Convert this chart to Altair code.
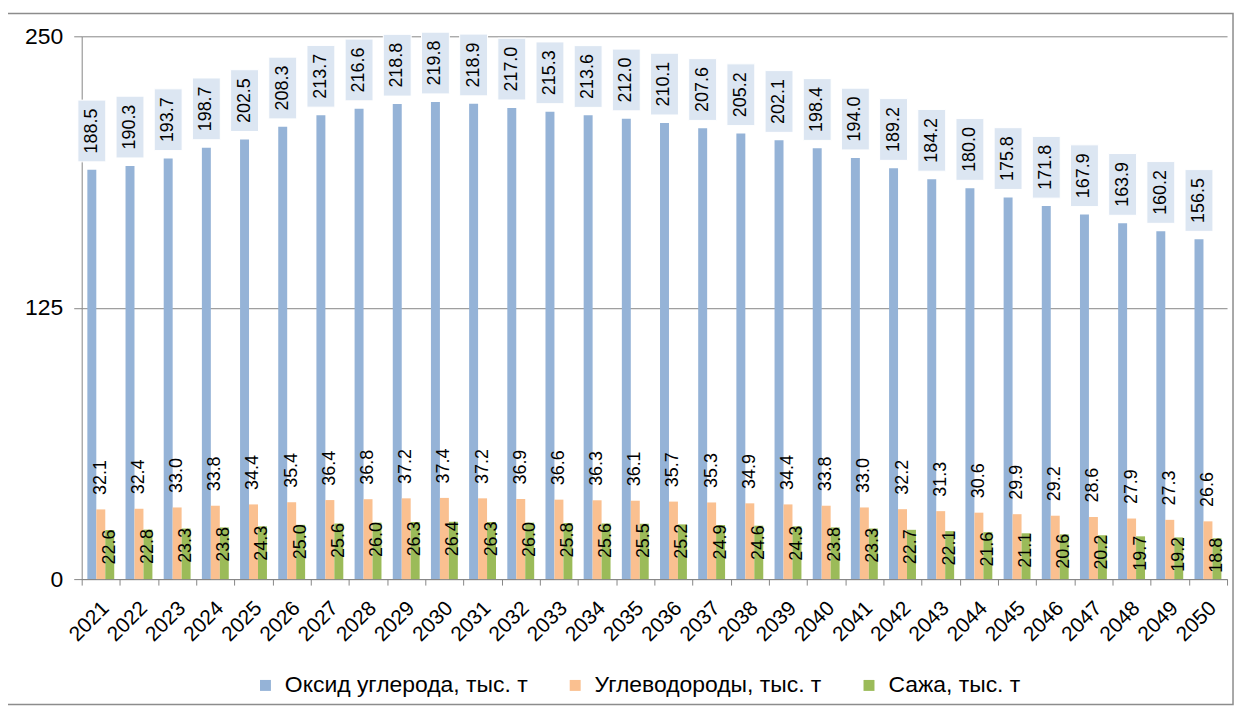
import altair as alt
import pandas as pd

years = [str(y) for y in range(2021, 2051)]
series_names = ["Оксид углерода, тыс. т", "Углеводороды, тыс. т", "Сажа, тыс. т"]
co = [188.5, 190.3, 193.7, 198.7, 202.5, 208.3, 213.7, 216.6, 218.8, 219.8,
      218.9, 217.0, 215.3, 213.6, 212.0, 210.1, 207.6, 205.2, 202.1, 198.4,
      194.0, 189.2, 184.2, 180.0, 175.8, 171.8, 167.9, 163.9, 160.2, 156.5]
hc = [32.1, 32.4, 33.0, 33.8, 34.4, 35.4, 36.4, 36.8, 37.2, 37.4,
      37.2, 36.9, 36.6, 36.3, 36.1, 35.7, 35.3, 34.9, 34.4, 33.8,
      33.0, 32.2, 31.3, 30.6, 29.9, 29.2, 28.6, 27.9, 27.3, 26.6]
soot = [22.6, 22.8, 23.3, 23.8, 24.3, 25.0, 25.6, 26.0, 26.3, 26.4,
        26.3, 26.0, 25.8, 25.6, 25.5, 25.2, 24.9, 24.6, 24.3, 23.8,
        23.3, 22.7, 22.1, 21.6, 21.1, 20.6, 20.2, 19.7, 19.2, 18.8]
colors = ["#95b3d7", "#fac090", "#9bbb59"]
y_ticks = [0, 125, 250]

rows = []
for name, vals in zip(series_names, [co, hc, soot]):
    for yr, v in zip(years, vals):
        rows.append({"year": yr, "series": name, "value": v})
df = pd.DataFrame(rows)

FONT = "Liberation Sans"
W, H = 1150, 545

x_enc = alt.X("year:N", sort=years, title=None,
              scale=alt.Scale(paddingInner=0, paddingOuter=0),
              axis=alt.Axis(labelAngle=-45, labelFontSize=21, labelColor="#000000",
                            labelFont=FONT, tickBand="extent", tickSize=6,
                            tickColor="#868686", domainColor="#868686",
                            labelPadding=12, labelOffset=-3, grid=False))
xo_enc = alt.XOffset("series:N", sort=series_names,
                     scale=alt.Scale(domain=series_names, paddingInner=0, paddingOuter=0.63))
y_scale = alt.Scale(domain=[0, 250], nice=False)

base = alt.Chart(df).encode(x=x_enc, xOffset=xo_enc)

bars = base.mark_bar().encode(
    y=alt.Y("value:Q", scale=y_scale, title=None,
            axis=alt.Axis(values=y_ticks, labelFontSize=23, labelColor="#000000",
                          labelFont=FONT, grid=True, gridColor="#868686",
                          domainColor="#868686", tickColor="#868686", tickSize=8,
                          labelPadding=11)),
    color=alt.Color("series:N", sort=series_names,
                    scale=alt.Scale(domain=series_names, range=colors),
                    legend=alt.Legend(title=None, orient="none", legendX=173, legendY=640,
                                      direction="horizontal", symbolType="square",
                                      symbolSize=121, symbolStrokeWidth=0,
                                      labelFontSize=23, labelFont=FONT, labelLimit=500,
                                      labelColor="#000000", columnPadding=36,
                                      labelOffset=8)),
)

co_data = base.transform_filter(alt.datum.series == series_names[0])
hc_data = base.transform_filter(alt.datum.series == series_names[1])
soot_data = base.transform_filter(alt.datum.series == series_names[2])

boxes = co_data.mark_bar(width=28, yOffset=-8, y2Offset=-70, color="#dce6f2",
                         stroke="#ffffff", strokeWidth=1).encode(
    y=alt.Y("value:Q", scale=y_scale), y2="value:Q")

co_text = co_data.mark_text(angle=270, yOffset=-39, fontSize=18, font=FONT,
                            color="#000000", align="center", baseline="middle").encode(
    y=alt.Y("value:Q", scale=y_scale), text=alt.Text("value:Q", format=".1f"))
hc_text = hc_data.mark_text(angle=270, yOffset=-32, fontSize=18, font=FONT,
                            color="#000000", align="center", baseline="middle").encode(
    y=alt.Y("value:Q", scale=y_scale), text=alt.Text("value:Q", format=".1f"))
soot_text = soot_data.mark_text(angle=270, yOffset=17, fontSize=18, font=FONT,
                                color="#000000", align="center", baseline="middle").encode(
    y=alt.Y("value:Q", scale=y_scale), text=alt.Text("value:Q", format=".1f"))

frame = alt.Chart(pd.DataFrame({"k": [0]})).mark_rect(
    fill=None, stroke="#8c8c8c", strokeWidth=1.5, clip=False).encode(
    x=alt.value(-75), x2=alt.value(W + 6), y=alt.value(-23), y2=alt.value(H + 126))

chart = alt.layer(frame, bars, boxes, co_text, hc_text, soot_text).properties(
    width=W, height=H,
    autosize=alt.AutoSizeParams(type="none"),
    padding={"left": 74, "top": 27, "right": 10, "bottom": 130},
    background="#ffffff",
).configure_view(stroke=None).configure_axis(labelFont=FONT)

chart.save("out.html", embed_options={"renderer": "svg", "actions": False})
